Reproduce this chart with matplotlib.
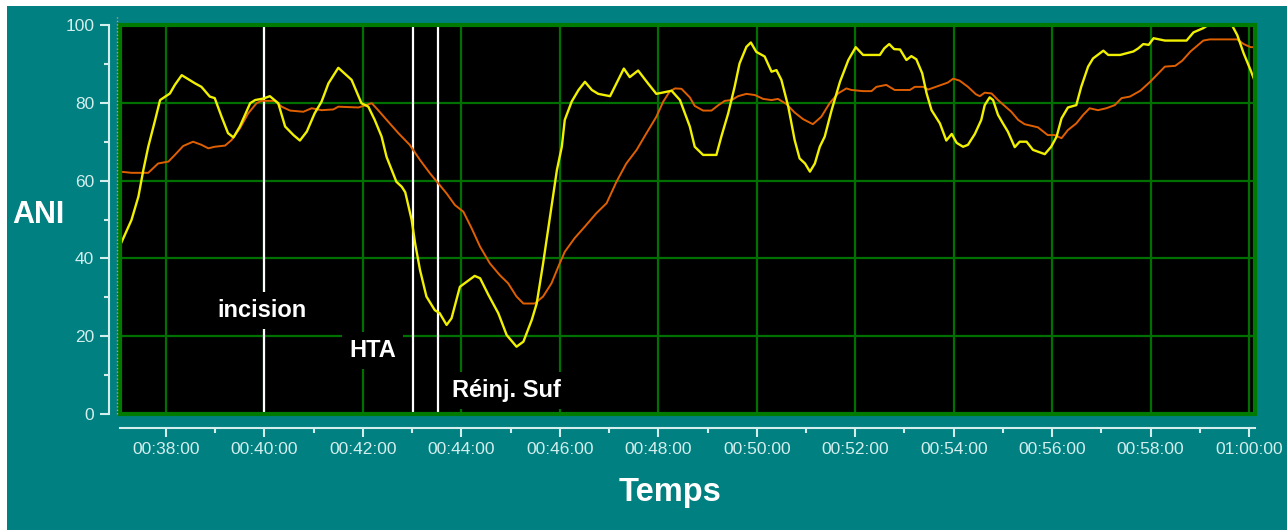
import matplotlib
matplotlib.use("Agg")
import matplotlib.pyplot as plt
from matplotlib.patches import Rectangle
from matplotlib.lines import Line2D
from matplotlib.ticker import MultipleLocator, FixedLocator, FixedFormatter

# ---- data (time in minutes, ANI values) ----
yellow_t = [37.07, 37.30, 37.44, 37.54, 37.64, 37.78, 37.88, 38.08, 38.18, 38.32, 38.59, 38.72,
            38.89, 38.99, 39.13, 39.26, 39.37, 39.50, 39.71, 39.81, 39.98, 40.11, 40.28, 40.42,
            40.59, 40.72, 40.86, 41.02, 41.16, 41.30, 41.50, 41.77, 41.97, 42.11, 42.24, 42.38,
            42.48, 42.68, 42.79, 42.86, 42.99, 43.06, 43.16, 43.29, 43.46, 43.56, 43.70, 43.80,
            43.97, 44.11, 44.27, 44.38, 44.55, 44.75, 44.92, 45.12, 45.26, 45.43, 45.53, 45.66,
            45.80, 45.94, 46.04, 46.10, 46.24, 46.38, 46.51, 46.65, 46.78, 47.02, 47.15, 47.30,
            47.42, 47.59, 47.79, 47.96, 48.27, 48.44, 48.54, 48.64, 48.74, 48.91, 49.18, 49.28,
            49.42, 49.55, 49.65, 49.79, 49.88, 49.99, 50.16, 50.30, 50.40, 50.50, 50.64, 50.77,
            50.87, 50.98, 51.08, 51.18, 51.28, 51.38, 51.52, 51.69, 51.86, 52.01, 52.16, 52.50,
            52.59, 52.69, 52.79, 52.91, 53.04, 53.14, 53.24, 53.36, 53.45, 53.55, 53.72, 53.85,
            53.96, 54.06, 54.19, 54.29, 54.43, 54.56, 54.63, 54.73, 54.80, 54.90, 55.00, 55.10,
            55.24, 55.34, 55.48, 55.61, 55.85, 55.98, 56.09, 56.19, 56.32, 56.49, 56.59, 56.73,
            56.83, 57.04, 57.14, 57.38, 57.65, 57.75, 57.85, 57.96, 58.06, 58.29, 58.73, 58.87,
            59.07, 59.17, 59.65, 59.76, 59.89, 60.03, 60.12]
yellow_v = [43.4, 49.9, 55.9, 62.7, 68.7, 75.6, 80.7, 82.4, 84.6, 87.1, 85.0, 84.1,
            81.6, 81.2, 76.4, 72.2, 71.1, 73.9, 79.9, 80.7, 81.1, 81.7, 79.9, 73.9,
            71.7, 70.3, 72.6, 77.3, 80.3, 85.0, 89.0, 85.9, 79.9, 79.0, 75.6, 71.3,
            66.1, 59.7, 58.4, 57.0, 49.9, 43.9, 37.0, 30.2, 26.7, 25.9, 22.9, 24.6,
            32.7, 34.0, 35.5, 34.9, 30.6, 25.9, 20.3, 17.3, 18.6, 24.2, 28.4, 38.7,
            50.7, 62.7, 68.7, 75.6, 80.3, 83.3, 85.4, 83.3, 82.3, 81.7, 85.0, 88.8,
            86.6, 88.3, 85.0, 82.3, 83.1, 80.7, 77.3, 73.9, 68.7, 66.6, 66.6, 71.3,
            77.3, 84.1, 90.1, 94.4, 95.5, 93.1, 91.9, 88.0, 88.4, 85.9, 79.0, 70.4,
            65.7, 64.4, 62.3, 64.4, 68.7, 71.3, 78.1, 85.4, 91.0, 94.3, 92.3, 92.3,
            94.0, 95.1, 93.8, 93.7, 91.0, 92.0, 91.2, 87.6, 82.4, 78.1, 74.7, 70.3,
            72.0, 69.7, 68.7, 69.2, 72.0, 75.6, 79.4, 81.4, 80.7, 76.9, 74.7, 72.6,
            68.6, 70.0, 70.0, 67.9, 66.8, 68.7, 71.3, 76.0, 78.8, 79.4, 84.1, 89.3,
            91.4, 93.4, 92.3, 92.3, 93.2, 94.0, 95.1, 94.9, 96.6, 96.0, 96.0, 98.1,
            99.2, 100.0, 100.0, 97.4, 92.7, 88.4, 85.4]

orange_t = [37.07, 37.30, 37.64, 37.84, 38.05, 38.18, 38.35, 38.55, 38.72, 38.86, 38.99, 39.20,
            39.33, 39.50, 39.67, 39.84, 39.94, 40.21, 40.35, 40.52, 40.79, 40.96, 41.16, 41.40,
            41.50, 41.91, 42.18, 42.31, 42.51, 42.72, 42.95, 43.16, 43.36, 43.53, 43.70, 43.87,
            44.04, 44.21, 44.38, 44.58, 44.78, 44.95, 45.12, 45.26, 45.49, 45.66, 45.83, 45.97,
            46.10, 46.30, 46.51, 46.74, 46.95, 47.15, 47.35, 47.56, 47.76, 47.96, 48.10, 48.23,
            48.34, 48.47, 48.64, 48.74, 48.91, 49.08, 49.22, 49.35, 49.49, 49.62, 49.79, 49.96,
            50.13, 50.30, 50.43, 50.60, 50.77, 50.94, 51.14, 51.31, 51.48, 51.65, 51.82, 51.92,
            52.16, 52.33, 52.43, 52.63, 52.80, 53.11, 53.21, 53.38, 53.48, 53.75, 53.88, 53.99,
            54.12, 54.29, 54.45, 54.53, 54.63, 54.77, 54.90, 55.07, 55.17, 55.31, 55.44, 55.71,
            55.91, 56.05, 56.19, 56.32, 56.49, 56.63, 56.76, 56.93, 57.10, 57.27, 57.41, 57.58,
            57.79, 57.99, 58.16, 58.29, 58.50, 58.64, 58.81, 59.07, 59.20, 59.76, 59.89, 60.03,
            60.12]
orange_v = [62.3, 62.0, 62.0, 64.4, 64.9, 66.6, 68.9, 70.0, 69.2, 68.3, 68.7, 69.0,
            70.4, 73.4, 77.3, 79.9, 80.5, 80.5, 79.0, 78.0, 77.7, 78.6, 78.1, 78.3,
            79.0, 78.8, 79.9, 78.1, 75.2, 72.2, 69.2, 65.3, 61.9, 59.3, 56.7, 53.7,
            52.0, 47.7, 43.0, 38.7, 35.7, 33.6, 30.2, 28.4, 28.4, 30.2, 33.6, 37.9,
            41.7, 45.2, 48.2, 51.6, 54.2, 59.7, 64.4, 67.9, 72.2, 76.4, 80.3, 82.9,
            83.7, 83.6, 81.4, 79.2, 78.0, 78.0, 79.4, 80.5, 80.7, 81.7, 82.3, 82.0,
            81.0, 80.7, 81.0, 79.7, 77.5, 75.8, 74.5, 76.4, 79.9, 82.4, 83.7, 83.3,
            83.0, 83.0, 84.1, 84.6, 83.3, 83.3, 84.1, 84.1, 83.4, 84.6, 85.2, 86.2,
            85.7, 84.1, 82.2, 81.7, 82.6, 82.4, 80.7, 78.8, 77.7, 75.6, 74.5, 73.7,
            71.7, 71.7, 70.9, 73.0, 74.7, 76.9, 78.6, 78.1, 78.6, 79.4, 81.2, 81.6,
            83.1, 85.4, 87.6, 89.3, 89.5, 90.8, 93.2, 96.0, 96.3, 96.3, 95.1, 94.3,
            94.3]

event_labels = ["incision", "HTA", "Réinj. Suf"]
event_times = [40.0, 43.02, 43.53]
label_x = [39.95, 42.19, 44.91]
label_y = [24.9, 14.65, 4.4]

x_major = [38, 40, 42, 44, 46, 48, 50, 52, 54, 56, 58, 60]
x_labels = ["00:38:00", "00:40:00", "00:42:00", "00:44:00", "00:46:00", "00:48:00",
            "00:50:00", "00:52:00", "00:54:00", "00:56:00", "00:58:00", "01:00:00"]

# ---- styling ----
W, H = 1287, 530
TEAL = "#008080"
LIGHT = "#d4eeee"
GRID = "#007000"

fig = plt.figure(figsize=(W / 100, H / 100), dpi=100, facecolor="white")
fig.patches.append(Rectangle((7 / W, 0), 1, (H - 6) / H, transform=fig.transFigure,
                             facecolor=TEAL, edgecolor="none", zorder=-10))

ax = fig.add_axes([120 / W, 1 - 414 / H, 1135 / W, 389 / H])
ax.set_facecolor("black")
ax.set_xlim(37.066, 60.12)
ax.set_ylim(0, 100)

# grid
for xv in x_major:
    ax.axvline(xv, color=GRID, lw=1.6, zorder=1)
for yv in [20, 40, 60, 80]:
    ax.axhline(yv, color=GRID, lw=1.6, zorder=1)

# event lines
for t in event_times:
    ax.axvline(t, color="white", lw=1.6, zorder=2)

ax.plot(orange_t, orange_v, color="#e06000", lw=1.4, zorder=3)
ax.plot(yellow_t, yellow_v, color="#f0f000", lw=1.7, zorder=4)

for lab, lx, ly in zip(event_labels, label_x, label_y):
    ax.text(lx, ly, lab, color="white", fontsize=17, fontweight="bold",
            family=["Liberation Sans", "DejaVu Sans"], ha="center", va="baseline",
            zorder=5, bbox=dict(boxstyle="square,pad=0.3", facecolor="black", edgecolor="none"))

# green frame
ax.add_patch(Rectangle((0, 0), 1, 1, transform=ax.transAxes, fill=False,
                       edgecolor="#007a00", lw=3, zorder=6, clip_on=False))

# spines
for s in ["top", "right"]:
    ax.spines[s].set_visible(False)
ax.spines["left"].set_position(("outward", 8))
ax.spines["bottom"].set_position(("outward", 10))
for s in ["left", "bottom"]:
    ax.spines[s].set_color(LIGHT)
    ax.spines[s].set_linewidth(1.5)

ax.xaxis.set_major_locator(FixedLocator(x_major))
ax.xaxis.set_major_formatter(FixedFormatter(x_labels))
ax.xaxis.set_minor_locator(MultipleLocator(1))
ax.yaxis.set_major_locator(MultipleLocator(20))
ax.yaxis.set_minor_locator(MultipleLocator(10))
ax.tick_params(which="both", colors=LIGHT, width=1.5)
ax.tick_params(which="major", length=6.5, pad=4, labelsize=12.5)
ax.tick_params(which="minor", length=3.5)
for lab in ax.get_xticklabels() + ax.get_yticklabels():
    lab.set_family(["Liberation Sans", "DejaVu Sans"])
    lab.set_color(LIGHT)

# dotted line between axis and plot
fig.add_artist(Line2D([116.5 / W, 116.5 / W], [1 - 414 / H, 1 - 16 / H],
                      transform=fig.transFigure, color="#c89090", lw=1, ls=(0, (1, 1.5))))

fig.text(38 / W, 1 - 215 / H, "ANI", color="white", fontsize=22, fontweight="bold",
         family=["Liberation Sans", "DejaVu Sans"], ha="center", va="center")
fig.text(670 / W, 1 - 492 / H, "Temps", color="white", fontsize=23.5, fontweight="bold",
         family=["Liberation Sans", "DejaVu Sans"], ha="center", va="center")

fig.savefig("out.png", dpi=100, facecolor=fig.get_facecolor())
